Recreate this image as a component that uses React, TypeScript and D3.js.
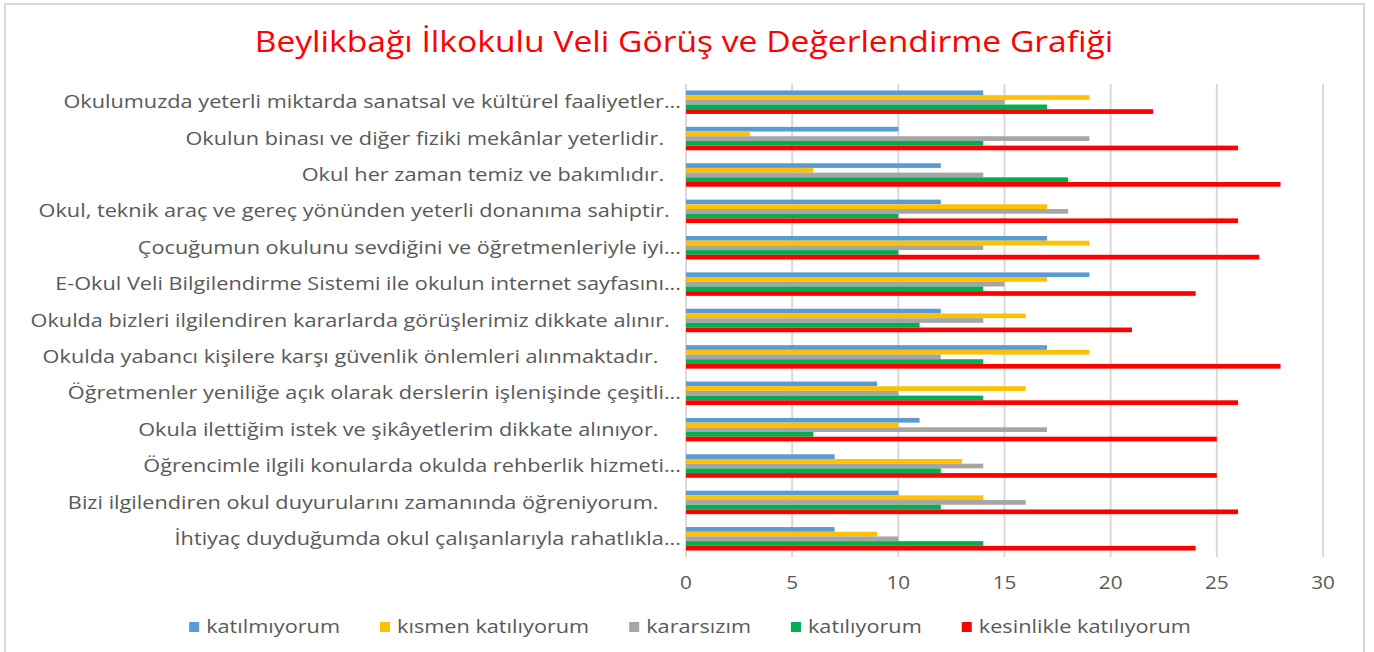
import React, {useEffect, useRef} from 'react'
import * as d3 from 'd3'

// categories listed top to bottom as they appear on the chart
const categories = [
    'Okulumuzda yeterli miktarda sanatsal ve kültürel faaliyetler...',
    'Okulun binası ve diğer fiziki mekânlar yeterlidir.   ',
    'Okul her zaman temiz ve bakımlıdır.   ',
    'Okul, teknik araç ve gereç yönünden yeterli donanıma sahiptir.  ',
    'Çocuğumun okulunu sevdiğini ve öğretmenleriyle iyi...',
    'E-Okul Veli Bilgilendirme Sistemi ile okulun internet sayfasını...',
    'Okulda bizleri ilgilendiren kararlarda görüşlerimiz dikkate alınır.  ',
    'Okulda yabancı kişilere karşı güvenlik önlemleri alınmaktadır.    ',
    'Öğretmenler yeniliğe açık olarak derslerin işlenişinde çeşitli...',
    'Okula ilettiğim istek ve şikâyetlerim dikkate alınıyor.    ',
    'Öğrencimle ilgili konularda okulda rehberlik hizmeti...',
    'Bizi ilgilendiren okul duyurularını zamanında öğreniyorum.    ',
    'İhtiyaç duyduğumda okul çalışanlarıyla rahatlıkla...',
]

const seriesNames = ['katılmıyorum', 'kısmen katılıyorum', 'kararsızım', 'katılıyorum', 'kesinlikle katılıyorum']
const seriesColors = ['#5b9bd5', '#ffc000', '#a5a5a5', '#00b050', '#ff0000']

const katilmiyorum = [14, 10, 12, 12, 17, 19, 12, 17, 9, 11, 7, 10, 7]
const kismen = [19, 3, 6, 17, 19, 17, 16, 19, 16, 10, 13, 14, 9]
const kararsizim = [15, 19, 14, 18, 14, 15, 14, 12, 10, 17, 14, 16, 10]
const katiliyorum = [17, 14, 18, 10, 10, 14, 11, 14, 14, 6, 12, 12, 14]
const kesinlikle = [22, 26, 28, 26, 27, 24, 21, 28, 26, 25, 25, 26, 24]

const xTicks = [0, 5, 10, 15, 20, 25, 30]

const title = 'Beylikbağı İlkokulu Veli Görüş ve Değerlendirme Grafiği'

const W = 1374
const H = 652
const FONT = '"Open Sans", "Noto Sans", sans-serif'
// the source picture is stretched sideways, so text is widened to match
const SX = 1.24

export default function App() {
    const svgRef = useRef<SVGSVGElement>(null)

    useEffect(() => {
        const svg = d3.select(svgRef.current)
        svg.selectAll('*').remove()

        const values = [katilmiyorum, kismen, kararsizim, katiliyorum, kesinlikle]
        const plot = {left: 686, right: 1323, top: 84, bottom: 557}

        // outer frame
        svg.append('rect')
            .attr('x', 5).attr('y', 4)
            .attr('width', 1359).attr('height', H + 10)
            .attr('fill', '#fff')
            .attr('stroke', '#d9d9d9')
            .attr('stroke-width', 2)

        svg.append('text')
            .attr('transform', `translate(684,52) scale(1.16,1)`)
            .attr('text-anchor', 'middle')
            .attr('font-family', FONT)
            .attr('font-size', 29)
            .attr('fill', '#ff0000')
            .text(title)

        const x = d3.scaleLinear().domain([0, 30]).range([plot.left, plot.right])
        const y0 = d3.scaleBand<string>()
            .domain(categories)
            .range([plot.top, plot.bottom])
            .paddingInner(0.355)
            .paddingOuter(0.1775)
        const y1 = d3.scaleBand<number>()
            .domain(d3.range(seriesNames.length))
            .range([0, y0.bandwidth()])

        // gridlines
        svg.append('g')
            .selectAll('line')
            .data(xTicks)
            .join('line')
            .attr('x1', d => x(d)).attr('x2', d => x(d))
            .attr('y1', plot.top).attr('y2', plot.bottom)
            .attr('stroke', '#d9d9d9')
            .attr('stroke-width', 2)

        // bars
        const groups = svg.append('g')
            .selectAll('g')
            .data(categories)
            .join('g')
            .attr('transform', d => `translate(0,${y0(d)})`)

        groups.selectAll('rect')
            .data((_, i) => values.map((s, k) => ({k, v: s[i]})))
            .join('rect')
            .attr('x', x(0))
            .attr('y', d => y1(d.k)!)
            .attr('width', d => x(d.v) - x(0))
            .attr('height', y1.bandwidth())
            .attr('fill', d => seriesColors[d.k])

        // category labels
        svg.append('g')
            .selectAll('text')
            .data(categories)
            .join('text')
            .attr('transform', d => `translate(681,${y0(d)! + y0.bandwidth() / 2}) scale(${SX},1)`)
            .attr('dy', '0.35em')
            .attr('text-anchor', 'end')
            .attr('font-family', FONT)
            .attr('font-size', 17.5)
            .attr('fill', '#595959')
            .style('white-space', 'pre')
            .text(d => d)

        // x tick labels
        svg.append('g')
            .selectAll('text')
            .data(xTicks)
            .join('text')
            .attr('transform', d => `translate(${x(d)},583) scale(1.15,1)`)
            .attr('dy', '0.35em')
            .attr('text-anchor', 'middle')
            .attr('font-family', FONT)
            .attr('font-size', 18)
            .attr('fill', '#595959')
            .text(d => d)

        // legend, measured and centred
        const legend = svg.append('g')
        const items = legend.selectAll('g')
            .data(seriesNames)
            .join('g')
        items.append('rect')
            .attr('width', 10).attr('height', 10)
            .attr('y', -5)
            .attr('fill', (_, i) => seriesColors[i])
        items.append('text')
            .attr('transform', `translate(17,0) scale(${SX},1)`)
            .attr('dy', '0.35em')
            .attr('font-family', FONT)
            .attr('font-size', 17.5)
            .attr('fill', '#595959')
            .text(d => d)

        const gap = 40
        const widths: number[] = []
        items.each(function () {
            const t = d3.select(this).select('text').node() as SVGTextElement
            widths.push(17 + t.getComputedTextLength() * SX)
        })
        const total = d3.sum(widths) + gap * (widths.length - 1)
        let cx = 690 - total / 2
        items.attr('transform', (_, i) => {
            const tx = cx
            cx += widths[i] + gap
            return `translate(${tx},627)`
        })
    }, [])

    return (
        <svg
            ref={svgRef}
            width={W}
            height={H}
            style={{position: 'absolute', left: 0, top: 0, display: 'block'}}
        />
    )
}
